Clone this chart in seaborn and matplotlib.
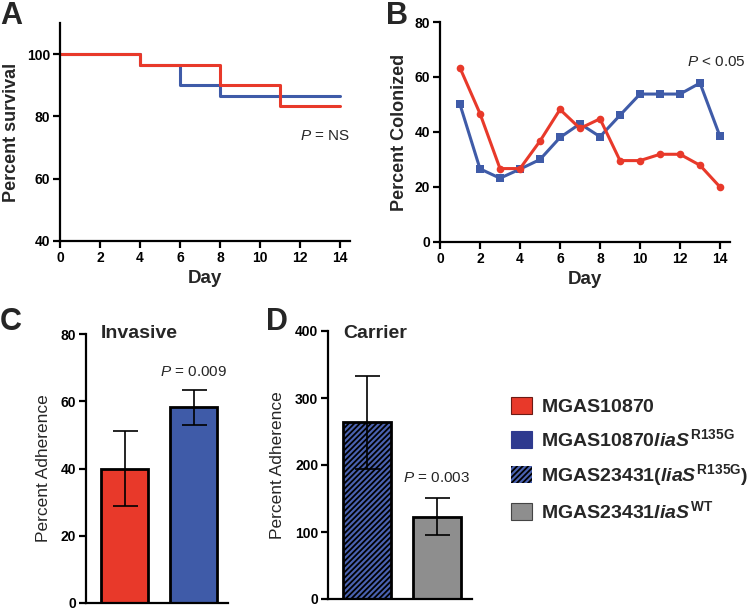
import numpy as np
import pandas as pd
import matplotlib
matplotlib.use("Agg")
import matplotlib.pyplot as plt
import seaborn as sns
from matplotlib.patches import Patch

# ---------------- data ----------------
# Panel A: survival (step curves)
surv_days_blue = [0, 4, 6, 8, 14]
surv_vals_blue = [100, 96.67, 90.0, 86.67, 86.67]
surv_days_red = [0, 4, 8, 11, 14]
surv_vals_red = [100, 96.67, 90.0, 83.33, 83.33]

# Panel B: colonization
col_days = list(range(1, 15))
col_red = [63.3, 46.7, 26.7, 26.7, 36.7, 48.2, 41.3, 44.8, 29.6, 29.6, 31.9, 31.9, 27.9, 20.0]
col_blue = [50.0, 26.6, 23.2, 26.5, 30.0, 38.0, 43.0, 38.3, 46.1, 53.8, 53.8, 53.8, 57.8, 38.4]

# Panel C: invasive adherence
inv_cats = ["MGAS10870", "MGAS10870liaS R135G"]
inv_vals = [40.0, 58.3]
inv_err_lo = [28.7, 52.9]
inv_err_hi = [51.3, 63.2]

# Panel D: carrier adherence
car_cats = ["MGAS23431(liaS R135G)", "MGAS23431liaS WT"]
car_vals = [264.0, 123.0]
car_err_lo = [194.0, 95.0]
car_err_hi = [333.0, 151.0]

legend_labels = [
    r"$\mathbf{MGAS10870}$",
    r"$\mathbf{MGAS10870}\mathbfit{liaS}^{\,\mathbf{R135G}}$",
    r"$\mathbf{MGAS23431(}\mathbfit{liaS}^{\,\mathbf{R135G}}\mathbf{)}$",
    r"$\mathbf{MGAS23431}\mathbfit{liaS}^{\,\mathbf{WT}}$",
]

RED = "#E8392A"
BLUE = "#3F5BA8"
BLUE_LEG = "#2E3A8F"
HATCH_BLUE = "#4A62B0"
GRAY = "#8E8E8E"

# ---------------- style ----------------
sns.set_theme(style="ticks")
plt.rcParams["font.family"] = ["Liberation Sans", "DejaVu Sans"]
plt.rcParams["mathtext.fontset"] = "custom"
plt.rcParams["mathtext.rm"] = "Liberation Sans"
plt.rcParams["mathtext.bf"] = "Liberation Sans:bold"
plt.rcParams["mathtext.it"] = "Liberation Sans:italic"
plt.rcParams["mathtext.bfit"] = "Liberation Sans:bold:italic"
plt.rcParams["hatch.linewidth"] = 1.3
plt.rcParams["axes.linewidth"] = 1.6

fig = plt.figure(figsize=(7.5, 6.14), dpi=100)
W, H = 750.0, 614.0


def add_ax(l, r, t, b):
    return fig.add_axes([l / W, 1 - b / H, (r - l) / W, (b - t) / H])


def style_ax(ax, xticks=True):
    sns.despine(ax=ax)
    for s in ["left", "bottom"]:
        ax.spines[s].set_linewidth(1.6)
        ax.spines[s].set_color("black")
    ax.tick_params(axis="both", direction="out", length=5, width=1.6,
                   labelsize=10, colors="black", pad=2)
    for lab in ax.get_xticklabels() + ax.get_yticklabels():
        lab.set_fontweight("bold")
    if not xticks:
        ax.set_xticks([])
    ax.set_facecolor("none")


# ---------------- Panel A ----------------
axA = add_ax(60, 350, 23, 241)
dfA = pd.concat([
    pd.DataFrame({"Day": surv_days_blue, "Surv": surv_vals_blue, "g": "blue"}),
    pd.DataFrame({"Day": surv_days_red, "Surv": surv_vals_red, "g": "red"}),
])
sns.lineplot(data=dfA, x="Day", y="Surv", hue="g", palette={"blue": BLUE, "red": RED},
             drawstyle="steps-post", linewidth=2.2, legend=False, ax=axA,
             estimator=None, sort=True)
axA.set_xlim(0, 14.5)
axA.set_ylim(40, 110)
axA.set_xticks(range(0, 15, 2))
axA.set_yticks([40, 60, 80, 100])
axA.set_xlabel("Day", fontsize=13.5, fontweight="bold", labelpad=4)
axA.set_ylabel("Percent survival", fontsize=13, fontweight="bold", labelpad=5)
style_ax(axA)
axA.text(1.0, 73.8, r"$\it{P}$ = NS", transform=axA.get_yaxis_transform(),
         ha="right", va="center", fontsize=11)

# ---------------- Panel B ----------------
axB = add_ax(440, 730, 22, 242)
dfB = pd.concat([
    pd.DataFrame({"Day": col_days, "Pct": col_blue, "g": "blue"}),
    pd.DataFrame({"Day": col_days, "Pct": col_red, "g": "red"}),
])
sns.lineplot(data=dfB, x="Day", y="Pct", hue="g", palette={"blue": BLUE, "red": RED},
             style="g", markers={"blue": "s", "red": "o"}, dashes=False,
             markersize=5.5, markeredgewidth=0, linewidth=2.2, legend=False, ax=axB)
axB.set_xlim(0, 14.5)
axB.set_ylim(0, 80)
axB.set_xticks(range(0, 15, 2))
axB.set_yticks(range(0, 81, 20))
axB.set_xlabel("Day", fontsize=13.5, fontweight="bold", labelpad=4)
axB.set_ylabel("Percent Colonized", fontsize=13, fontweight="bold", labelpad=5)
style_ax(axB)
axB.text(15.3, 65.5, r"$\it{P}$ < 0.05", ha="right", va="center", fontsize=11,
         clip_on=False)

# ---------------- Panel C ----------------
axC = add_ax(86, 228, 334, 603)
sns.barplot(x=inv_cats, y=inv_vals, hue=inv_cats, palette=[RED, BLUE], legend=False,
            width=0.68, edgecolor="black", linewidth=2, errorbar=None, ax=axC,
            saturation=1)
axC.errorbar(range(len(inv_vals)), inv_vals,
             yerr=[np.array(inv_vals) - np.array(inv_err_lo),
                   np.array(inv_err_hi) - np.array(inv_vals)],
             fmt="none", ecolor="black", elinewidth=1.2, capsize=9, capthick=1.2, zorder=5)
axC.set_xlim(-0.558, 1.5)
axC.set_ylim(0, 80)
axC.set_yticks(range(0, 81, 20))
axC.set_ylabel("Percent Adherence", fontsize=12.5, labelpad=7)
axC.set_xlabel("")
style_ax(axC, xticks=False)
axC.text(-0.34, 80, "Invasive", fontsize=14, fontweight="bold", ha="left", va="center")
axC.text(1, 68.8, r"$\it{P}$ = 0.009", ha="center", va="center", fontsize=11)

# ---------------- Panel D ----------------
axD = add_ax(328, 472, 331, 599)
sns.barplot(x=car_cats, y=car_vals, hue=car_cats, palette=[HATCH_BLUE, GRAY], legend=False,
            width=0.686, edgecolor="black", linewidth=2, errorbar=None, ax=axD,
            saturation=1)
axD.patches[0].set_hatch("//////")
axD.errorbar(range(len(car_vals)), car_vals,
             yerr=[np.array(car_vals) - np.array(car_err_lo),
                   np.array(car_err_hi) - np.array(car_vals)],
             fmt="none", ecolor="black", elinewidth=1.2, capsize=9, capthick=1.2, zorder=5)
axD.set_xlim(-0.557, 1.5)
axD.set_ylim(0, 400)
axD.set_yticks(range(0, 401, 100))
axD.set_ylabel("Percent Adherence", fontsize=12.5, labelpad=7)
axD.set_xlabel("")
style_ax(axD, xticks=False)
axD.text(-0.34, 397, "Carrier", fontsize=14, fontweight="bold", ha="left", va="center")
axD.text(1, 180, r"$\it{P}$ = 0.003", ha="center", va="center", fontsize=11)

# ---------------- Legend ----------------
handles = [
    Patch(facecolor=RED, edgecolor="#6b1a14", linewidth=0.8),
    Patch(facecolor=BLUE_LEG, edgecolor=BLUE_LEG, linewidth=0.8),
    Patch(facecolor=HATCH_BLUE, edgecolor="black", hatch="//////", linewidth=0),
    Patch(facecolor=GRAY, edgecolor="#444444", linewidth=0.8),
]
fig.legend(handles, legend_labels, loc="upper left",
           bbox_to_anchor=(511 / W, 1 - 397 / H), frameon=False, fontsize=14,
           handlelength=1.1, handleheight=1.0, handletextpad=0.45,
           labelspacing=0.62, borderpad=0, borderaxespad=0)

# ---------------- panel letters ----------------
for txt, x, y in [("A", 0, 16), ("B", 386, 16), ("C", 0, 322), ("D", 266, 322)]:
    fig.text(x / W, 1 - y / H, txt, fontsize=22, fontweight="bold",
             ha="left", va="center")

fig.savefig("out.png", dpi=100)
